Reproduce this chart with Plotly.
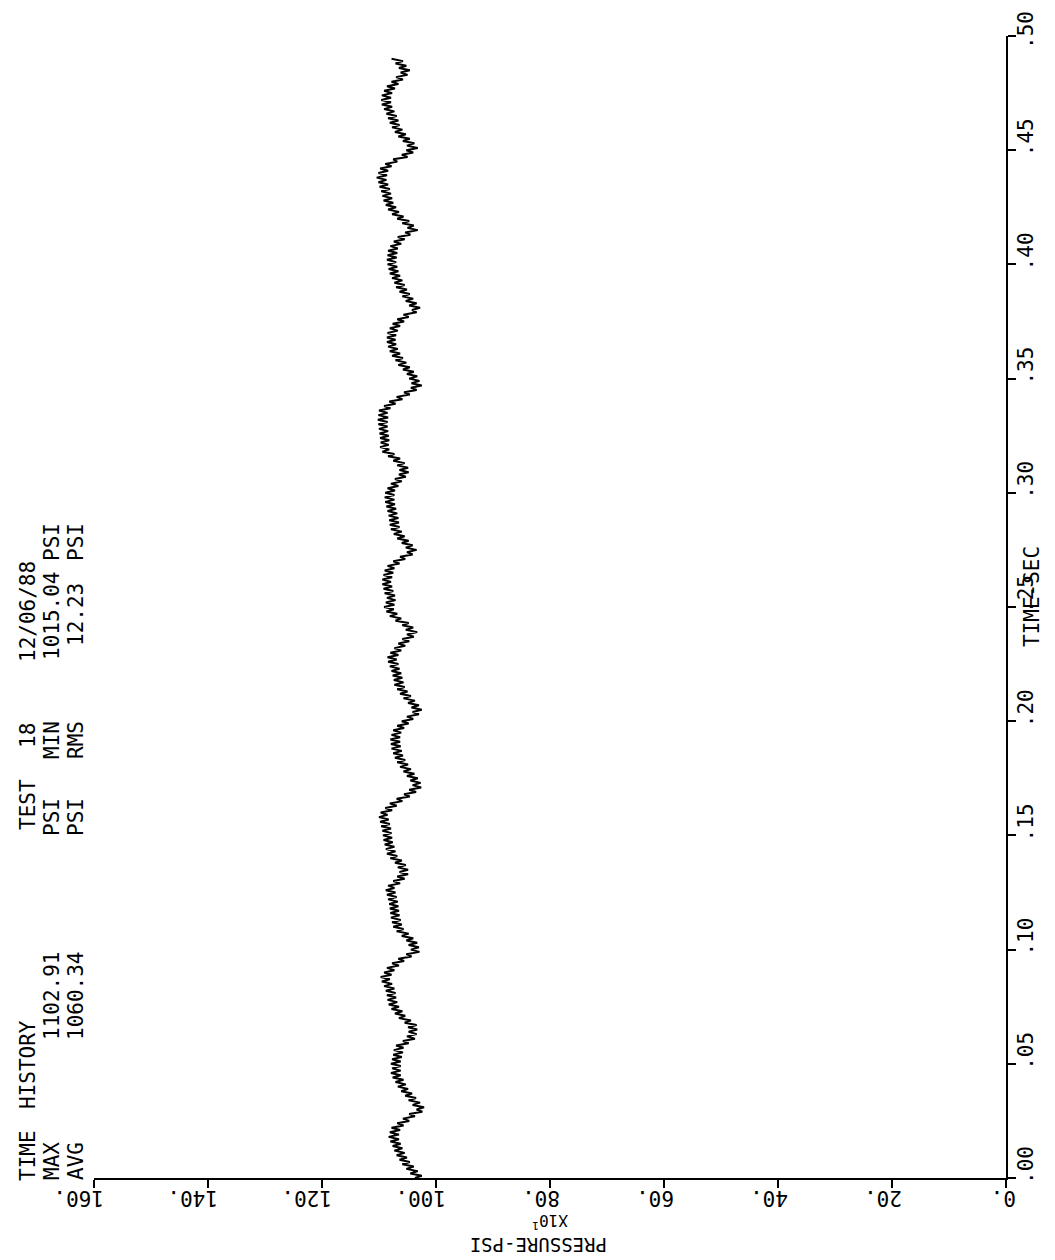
import plotly.graph_objects as go

# ---------------- data ----------------
# pressure trace in units of 10 psi (axis label "X10^1"), sampled every TIME_STEP seconds from t = 0
TIME_STEP = 0.001
PRESSURE_X10 = [
    103.7,102.5,104.5,103.2,105.2,103.9,105.9,104.6,106.4,105.1,
    106.9,105.5,107.3,105.9,107.6,106.2,108.0,106.5,108.3,106.5,
    108.1,106.3,107.8,105.7,106.8,104.7,105.8,103.7,104.7,102.4,
    103.4,102.1,104.1,102.8,104.8,103.5,105.4,104.2,106.1,104.9,
    106.7,105.3,107.1,105.7,107.6,106.2,107.9,106.2,107.7,106.2,
    107.9,106.2,107.7,106.0,107.5,105.8,107.4,105.7,107.0,104.8,
    105.8,103.7,105.1,103.4,104.8,103.3,104.9,103.4,105.5,104.4,
    106.5,105.4,107.2,105.9,107.8,106.5,108.3,106.8,108.5,107.0,
    108.6,107.1,108.8,107.3,109.1,107.7,109.5,108.1,109.7,107.8,
    109.1,107.3,108.6,106.5,107.7,105.6,106.6,104.3,105.2,102.9,
    104.4,103.0,104.8,103.3,105.2,104.0,106.0,104.8,106.9,105.7,
    107.5,106.0,107.7,106.2,107.9,106.4,108.0,106.5,108.1,106.6,
    108.2,106.7,108.4,106.9,108.6,107.1,108.8,107.3,108.4,106.3,
    107.5,105.5,106.8,104.9,106.4,104.9,106.7,105.3,107.2,106.0,
    108.0,106.8,108.6,107.1,108.8,107.3,109.0,107.6,109.2,107.7,
    109.3,107.8,109.4,107.9,109.6,108.1,109.8,108.3,110.0,108.5,
    109.7,107.7,108.9,106.9,108.1,105.9,106.9,104.6,105.6,103.5,
    104.7,102.6,104.1,102.7,104.5,103.2,105.1,103.8,105.7,104.4,
    106.3,104.9,106.8,105.4,107.2,105.8,107.5,106.0,107.8,106.2,
    107.9,106.3,108.0,106.3,107.8,106.1,107.5,105.6,106.8,104.8,
    106.0,104.0,105.1,103.0,104.1,102.5,104.3,103.0,104.9,103.7,
    105.7,104.4,106.3,105.0,106.8,105.5,107.3,105.7,107.4,105.9,
    107.6,106.1,107.8,106.4,108.1,106.6,108.4,106.9,108.5,106.6,
    108.0,106.1,107.3,105.4,106.6,104.7,105.9,103.9,105.1,103.3,
    105.3,104.0,105.9,104.8,107.1,106.1,108.1,106.8,108.7,107.4,
    109.1,107.3,108.8,107.1,108.6,107.2,109.0,107.5,109.2,107.7,
    109.4,107.9,109.4,107.7,109.2,107.5,109.0,107.3,108.5,106.4,
    107.5,105.4,106.3,104.1,105.1,103.4,105.3,104.1,106.0,104.8,
    106.8,105.5,107.4,106.0,107.9,106.4,108.1,106.5,108.2,106.6,
    108.3,106.8,108.5,107.0,108.7,107.2,108.9,107.3,109.0,107.3,
    108.9,107.2,108.5,106.6,107.9,106.0,107.2,105.3,106.5,104.8,
    106.4,104.9,106.8,105.5,107.5,106.3,108.4,107.3,109.4,108.2,
    109.8,108.3,109.7,108.2,109.8,108.3,109.9,108.4,110.0,108.5,
    110.1,108.5,110.2,108.4,110.1,108.5,110.0,108.0,109.1,107.1,
    108.2,105.9,106.9,104.6,105.6,103.4,104.4,102.5,104.3,102.9,
    104.7,103.3,105.1,103.9,105.8,104.6,106.6,105.2,107.1,105.8,
    107.7,106.3,108.1,106.7,108.4,107.0,108.6,107.1,108.6,107.0,
    108.5,106.7,108.1,106.3,107.6,105.6,106.8,104.8,105.7,103.4,
    104.2,102.8,104.7,103.4,105.3,104.0,105.9,104.6,106.4,105.1,
    107.0,105.5,107.3,105.9,107.7,106.3,108.1,106.6,108.3,106.8,
    108.5,107.0,108.6,106.9,108.5,106.8,108.4,106.7,108.0,106.1,
    107.4,105.5,106.7,104.5,105.4,103.2,105.0,103.9,105.9,104.7,
    106.8,105.7,107.7,106.5,108.4,107.0,108.8,107.5,109.2,107.7,
    109.4,107.9,109.6,108.1,109.9,108.4,110.1,108.7,110.4,108.6,
    110.1,108.4,109.8,107.8,108.9,106.8,107.5,105.0,106.0,104.0,
    105.2,103.2,105.1,103.8,105.8,104.6,106.6,105.3,107.2,105.9,
    107.7,106.4,108.1,106.6,108.4,106.9,108.7,107.3,109.1,107.7,
    109.5,107.9,109.6,107.9,109.5,107.7,109.1,107.2,108.6,106.6,
    107.8,105.8,107.0,105.0,106.2,104.6,106.5,105.2,107.1,105.8,
    107.8,
]
TIME_SEC = [i * TIME_STEP for i in range(len(PRESSURE_X10))]

PRESSURE_TICKS = [0, 20, 40, 60, 80, 100, 120, 140, 160]
PRESSURE_TICK_TEXT = ["0.", "20.", "40.", "60.", "80.", "100.", "120.", "140.", "160."]
TIME_TICKS = [0.00, 0.05, 0.10, 0.15, 0.20, 0.25, 0.30, 0.35, 0.40, 0.45, 0.50]
TIME_TICK_TEXT = [".00", ".05", ".10", ".15", ".20", ".25", ".30", ".35", ".40", ".45", ".50"]

HEADER_LINE1 = ["TIME", "HISTORY", "TEST", "18", "12/06/88"]
HEADER_LINE2 = ["MAX", "1102.91", "PSI", "MIN", "1015.04", "PSI"]
HEADER_LINE3 = ["AVG", "1060.34", "PSI", "RMS", "12.23", "PSI"]

# ---------------- layout constants (pixels) ----------------
W, H = 1055, 1260
ML, MR, MT, MB = 86, 57, 28, 90
PW, PH = W - ML - MR, H - MT - MB
FONT = "DejaVu Sans Mono"


def px_to_paper_x(px):
    return (px - ML) / PW


def py_to_paper_y(py):
    return (H - MB - py) / PH


fig = go.Figure()
fig.add_trace(go.Scatter(
    x=PRESSURE_X10, y=TIME_SEC, mode="lines",
    line=dict(color="black", width=2), hoverinfo="skip", showlegend=False,
))

annotations = []
# pressure tick labels, upside down as in the rotated plot
for v, t in zip(PRESSURE_TICKS, PRESSURE_TICK_TEXT):
    annotations.append(dict(
        x=v, xref="x", y=0, yref="paper", text=t, showarrow=False,
        textangle=180, xanchor="right", yanchor="top", xshift=11, yshift=-7,
        borderpad=0, font=dict(family=FONT, size=21, color="black"),
    ))
# time tick labels, reading bottom to top, just right of the ticks
top_tick = max(TIME_TICKS)
for v, t in zip(TIME_TICKS, TIME_TICK_TEXT):
    annotations.append(dict(
        x=1, xref="paper", y=v, yref="y", text=t, showarrow=False,
        textangle=-90, xanchor="left", yanchor="middle", xshift=6,
        yshift=6 if v == top_tick else 13,
        font=dict(family=FONT, size=21, color="black"),
    ))
# X10^1 and axis title (upside down)
annotations.append(dict(
    x=px_to_paper_x(542), xref="paper", y=py_to_paper_y(1225), yref="paper",
    text="X10<sup>1</sup>", showarrow=False, textangle=180, borderpad=0,
    font=dict(family=FONT, size=16, color="black"),
))
annotations.append(dict(
    x=px_to_paper_x(531), xref="paper", y=py_to_paper_y(1249), yref="paper",
    text="PRESSURE-PSI", showarrow=False, textangle=180, borderpad=0,
    font=dict(family=FONT, size=19, color="black"),
))
# time axis title
annotations.append(dict(
    x=px_to_paper_x(1038), xref="paper", y=py_to_paper_y(589), yref="paper",
    text="TIME-SEC", showarrow=False, textangle=-90,
    font=dict(family=FONT, size=21, color="black"),
))

# header block (rotated, reading bottom to top)
line_x = [20, 44, 68]
line_centers = [
    [1148, 1057, 797, 728, 604],
    [1153, 988, 809, 732, 608, 534],
    [1153, 988, 809, 732, 607, 534],
]
for lx, words, centers in zip(line_x, [HEADER_LINE1, HEADER_LINE2, HEADER_LINE3], line_centers):
    for wtxt, cy in zip(words, centers):
        annotations.append(dict(
            x=px_to_paper_x(lx), xref="paper", y=py_to_paper_y(cy), yref="paper",
            text=wtxt, showarrow=False, textangle=-90,
            xanchor="center", yanchor="middle",
            font=dict(family=FONT, size=21, color="black"),
        ))

# small overshoots of the two axis lines past the origin corner
shapes = [
    dict(type="line", xref="paper", yref="paper", x0=1, x1=px_to_paper_x(1008), y0=0, y1=0,
         line=dict(color="black", width=2)),
    dict(type="line", xref="paper", yref="paper", x0=1, x1=1, y0=0, y1=py_to_paper_y(1179),
         line=dict(color="black", width=2)),
]

fig.update_layout(
    width=W, height=H,
    margin=dict(l=ML, r=MR, t=MT, b=MB, pad=0),
    paper_bgcolor="white", plot_bgcolor="white",
    showlegend=False,
    annotations=annotations,
    shapes=shapes,
    xaxis=dict(
        range=[160, 0], tickvals=PRESSURE_TICKS, showticklabels=False,
        ticks="outside", ticklen=8, tickwidth=2, tickcolor="black",
        showline=True, linecolor="black", linewidth=2,
        showgrid=False, zeroline=False, fixedrange=True,
    ),
    yaxis=dict(
        range=[0, 0.5], side="right", tickvals=TIME_TICKS, showticklabels=False,
        ticks="outside", ticklen=8, tickwidth=2, tickcolor="black",
        showline=True, linecolor="black", linewidth=2,
        showgrid=False, zeroline=False, fixedrange=True,
    ),
)

fig.write_html("out.html", config={"displayModeBar": False})
